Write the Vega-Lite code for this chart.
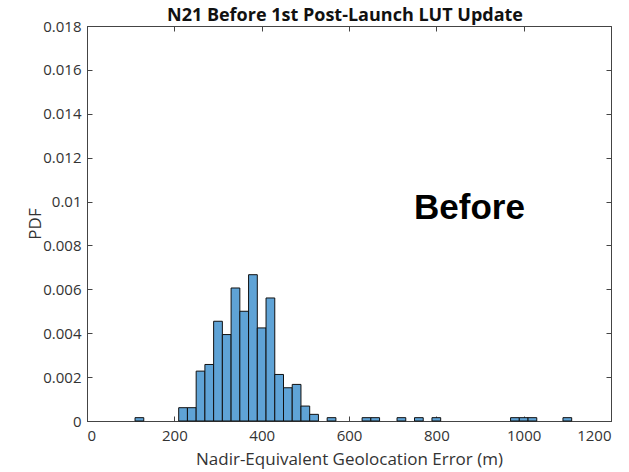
{
  "$schema": "https://vega.github.io/schema/vega-lite/v6.json",
  "width": 524,
  "height": 395,
  "autosize": "none",
  "padding": {"left": 87, "top": 26, "right": 18, "bottom": 51},
  "background": "white",
  "config": {
    "view": {"stroke": "#444444", "strokeWidth": 1},
    "font": "Open Sans",
    "axis": {"grid": false, "labelFont": "Open Sans", "titleFont": "Open Sans", "labelColor": "#333333", "titleColor": "#333333", "domainColor": "#444444", "tickColor": "#444444", "tickSize": -5, "labelFontSize": 15, "titleFontSize": 17, "titleFontWeight": "normal"}
  },
  "title": {"text": "N21 Before 1st Post-Launch LUT Update", "font": "Open Sans", "fontSize": 18, "fontWeight": "bold", "color": "#111111", "anchor": "middle", "frame": "group", "offset": -20, "dx": -4, "baseline": "alphabetic"},
  "datasets": {
    "bins": [
      {"start": 110, "end": 130, "pdf": 0.000152},
      {"start": 210, "end": 230, "pdf": 0.000606},
      {"start": 230, "end": 250, "pdf": 0.000606},
      {"start": 250, "end": 270, "pdf": 0.002273},
      {"start": 270, "end": 290, "pdf": 0.002576},
      {"start": 290, "end": 310, "pdf": 0.004545},
      {"start": 310, "end": 330, "pdf": 0.003939},
      {"start": 330, "end": 350, "pdf": 0.006061},
      {"start": 350, "end": 370, "pdf": 0.005000},
      {"start": 370, "end": 390, "pdf": 0.006667},
      {"start": 390, "end": 410, "pdf": 0.004242},
      {"start": 410, "end": 430, "pdf": 0.005606},
      {"start": 430, "end": 450, "pdf": 0.002121},
      {"start": 450, "end": 470, "pdf": 0.001515},
      {"start": 470, "end": 490, "pdf": 0.001667},
      {"start": 490, "end": 510, "pdf": 0.000680},
      {"start": 510, "end": 530, "pdf": 0.000303},
      {"start": 550, "end": 570, "pdf": 0.000152},
      {"start": 630, "end": 650, "pdf": 0.000152},
      {"start": 650, "end": 670, "pdf": 0.000152},
      {"start": 710, "end": 730, "pdf": 0.000152},
      {"start": 750, "end": 770, "pdf": 0.000152},
      {"start": 790, "end": 810, "pdf": 0.000152},
      {"start": 970, "end": 990, "pdf": 0.000152},
      {"start": 990, "end": 1010, "pdf": 0.000152},
      {"start": 1010, "end": 1030, "pdf": 0.000152},
      {"start": 1090, "end": 1110, "pdf": 0.000152}
    ],
    "note": [
      {"x": 876, "y": 0.0092, "label": "Before"}
    ]
  },
  "layer": [
    {
      "data": {"name": "bins"},
      "mark": {"type": "rect", "fill": "#5fa3d6", "stroke": "#111111", "strokeWidth": 1},
      "encoding": {
        "x": {"field": "start", "type": "quantitative", "scale": {"domain": [0, 1200], "nice": false, "zero": false},
              "axis": {"orient": "bottom", "values": [0, 200, 400, 600, 800, 1000, 1200], "format": "d", "title": "Nadir-Equivalent Geolocation Error (m)", "labelPadding": 12, "titlePadding": 8}},
        "x2": {"field": "end"},
        "y": {"field": "pdf", "type": "quantitative", "scale": {"domain": [0, 0.018], "nice": false},
              "axis": {"orient": "left", "values": [0, 0.002, 0.004, 0.006, 0.008, 0.01, 0.012, 0.014, 0.016, 0.018], "format": "~g", "title": "PDF", "labelPadding": 11, "titlePadding": -2}},
        "y2": {"datum": 0}
      }
    },
    {
      "data": {"name": "note"},
      "mark": {"type": "text", "font": "Liberation Sans", "fontWeight": "bold", "fontSize": 35, "color": "#000000", "align": "center", "baseline": "alphabetic"},
      "encoding": {
        "x": {"field": "x", "type": "quantitative", "axis": {"orient": "top", "values": [0, 200, 400, 600, 800, 1000, 1200], "labels": false, "title": null, "domain": false}},
        "y": {"field": "y", "type": "quantitative", "axis": {"orient": "right", "values": [0, 0.002, 0.004, 0.006, 0.008, 0.01, 0.012, 0.014, 0.016, 0.018], "labels": false, "title": null, "domain": false}},
        "text": {"field": "label"}
      }
    }
  ],
  "resolve": {"axis": {"x": "independent", "y": "independent"}}
}
